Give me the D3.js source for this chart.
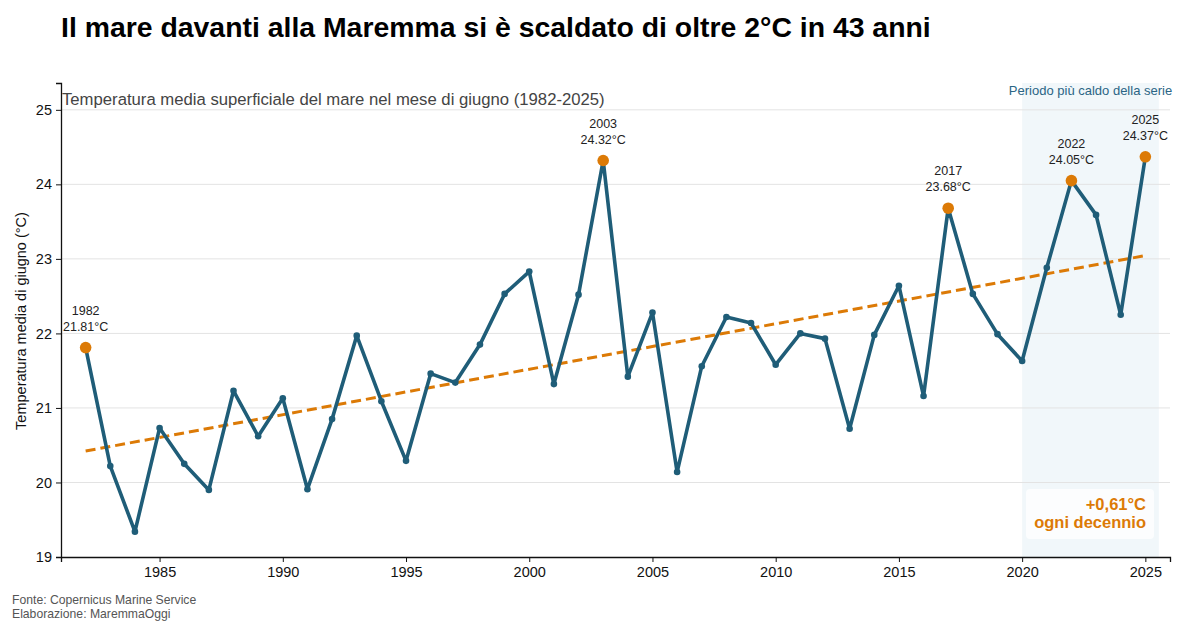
<!DOCTYPE html>
<html>
<head>
<meta charset="utf-8">
<script src="https://cdn.jsdelivr.net/npm/d3@7"></script>
<style>
  body { margin: 0; background: #fff; }
  svg { font-family: "Liberation Sans", Arial, sans-serif; }
</style>
</head>
<body>
<svg width="1200" height="630"></svg>
<script>
// dati
var years = [1982,1983,1984,1985,1986,1987,1988,1989,1990,1991,1992,1993,1994,1995,1996,1997,1998,1999,2000,2001,2002,2003,2004,2005,2006,2007,2008,2009,2010,2011,2012,2013,2014,2015,2016,2017,2018,2019,2020,2021,2022,2023,2024,2025];
var temps = [21.81,20.22,19.34,20.73,20.25,19.90,21.23,20.62,21.13,19.91,20.85,21.97,21.09,20.29,21.46,21.34,21.85,22.53,22.83,21.32,22.52,24.32,21.42,22.28,20.14,21.56,22.22,22.14,21.58,22.00,21.93,20.72,21.98,22.64,21.16,23.68,22.53,21.99,21.63,22.88,24.05,23.59,22.25,24.37];
var highlightYears = [1982, 2003, 2017, 2022, 2025];
var yTicks = [19,20,21,22,23,24,25];
var xTicks = [1985,1990,1995,2000,2005,2010,2015,2020,2025];

var blue = "#1f5d78", orange = "#dc7a06";

var svg = d3.select("svg");
var mLeft = 61, mRight = 1170, mTop = 83, mBottom = 557;

var x = d3.scaleLinear().domain([1981, 2026]).range([mLeft, mRight]);
var y = d3.scaleLinear().domain([19, 25.36]).range([mBottom, mTop]);

var data = years.map(function(d, i){ return {year: d, t: temps[i]} });

// periodo piu caldo
svg.append("rect")
   .attr("x", x(2020)).attr("y", mTop)
   .attr("width", x(2025.55) - x(2020)).attr("height", mBottom - mTop)
   .style("fill", "#e8f2f6").style("opacity", 0.6);

// griglia
svg.selectAll("line.grid")
   .data(yTicks.slice(1))
   .enter().append("line")
   .attr("class", "grid")
   .attr("x1", mLeft).attr("x2", mRight)
   .attr("y1", function(d){ return y(d) }).attr("y2", function(d){ return y(d) })
   .style("stroke", "#e3e3e3").style("stroke-width", 1);

// assi
var yAxis = svg.append("g")
   .attr("transform", "translate(" + mLeft + ",0)")
   .call(d3.axisLeft(y).tickValues(yTicks).tickSize(5).tickPadding(4).tickFormat(d3.format("d")));
var xAxis = svg.append("g")
   .attr("transform", "translate(0," + mBottom + ")")
   .call(d3.axisBottom(x).tickValues(xTicks).tickSize(5).tickPadding(5).tickFormat(d3.format("d")));
[yAxis, xAxis].forEach(function(g){
	g.selectAll("text").style("font-size", "14.5px").style("fill", "#111").style("font-family", "Liberation Sans, Arial, sans-serif");
	g.select(".domain").style("stroke", "#111").style("stroke-width", 1.3);
	g.selectAll(".tick line").style("stroke", "#111");
});

// linea di tendenza (regressione lineare)
var mx = d3.mean(years), my = d3.mean(temps);
var slope = d3.sum(data, function(d){ return (d.year - mx) * (d.t - my) }) /
            d3.sum(data, function(d){ return (d.year - mx) * (d.year - mx) });
var icpt = my - slope * mx;
var x0 = years[0], x1 = years[years.length - 1];
svg.append("line")
   .attr("x1", x(x0)).attr("y1", y(icpt + slope * x0))
   .attr("x2", x(x1)).attr("y2", y(icpt + slope * x1))
   .style("stroke", orange).style("stroke-width", 3)
   .style("stroke-dasharray", "10,5");

// serie
var line = d3.line().x(function(d){ return x(d.year) }).y(function(d){ return y(d.t) });
svg.append("path")
   .datum(data)
   .attr("d", line)
   .style("fill", "none").style("stroke", blue)
   .style("stroke-width", 3.6).style("stroke-linejoin", "round");

svg.selectAll("circle.pt")
   .data(data)
   .enter().append("circle")
   .attr("class", "pt")
   .attr("cx", function(d){ return x(d.year) })
   .attr("cy", function(d){ return y(d.t) })
   .attr("r", 3.3)
   .style("fill", blue);

var hl = data.filter(function(d){ return highlightYears.indexOf(d.year) >= 0 });
svg.selectAll("circle.hl")
   .data(hl)
   .enter().append("circle")
   .attr("class", "hl")
   .attr("cx", function(d){ return x(d.year) })
   .attr("cy", function(d){ return y(d.t) })
   .attr("r", 5.8)
   .style("fill", orange);

var lab = svg.selectAll("text.hl")
   .data(hl)
   .enter().append("text")
   .attr("class", "hl")
   .attr("text-anchor", "middle")
   .style("font-size", "12.5px").style("fill", "#222");
lab.append("tspan")
   .attr("x", function(d){ return x(d.year) })
   .attr("y", function(d){ return y(d.t) - 33 })
   .text(function(d){ return d.year });
lab.append("tspan")
   .attr("x", function(d){ return x(d.year) })
   .attr("y", function(d){ return y(d.t) - 17 })
   .text(function(d){ return d.t.toFixed(2) + "°C" });

// testi
svg.append("text")
   .attr("x", 61).attr("y", 37)
   .style("font-size", "28.4px").style("font-weight", "bold").style("fill", "#000")
   .text("Il mare davanti alla Maremma si è scaldato di oltre 2°C in 43 anni");

svg.append("text")
   .attr("x", 62).attr("y", 105)
   .style("font-size", "16.7px").style("fill", "#444")
   .text("Temperatura media superficiale del mare nel mese di giugno (1982-2025)");

svg.append("text")
   .attr("x", (x(2020) + x(2025.55)) / 2 + 0).attr("y", 95)
   .attr("text-anchor", "middle")
   .style("font-size", "13px").style("fill", "#2b6585")
   .text("Periodo più caldo della serie");

svg.append("text")
   .attr("transform", "translate(26," + ((mTop + mBottom) / 2 + 1) + ") rotate(-90)")
   .attr("text-anchor", "middle")
   .style("font-size", "14.5px").style("fill", "#111")
   .text("Temperatura media di giugno (°C)");

// riquadro tasso
svg.append("rect")
   .attr("x", 1026).attr("y", 489).attr("width", 128).attr("height", 50).attr("rx", 4)
   .style("fill", "#fff").style("opacity", 0.75);
var rate = svg.append("text")
   .attr("text-anchor", "end")
   .style("font-size", "16.5px").style("font-weight", "bold").style("fill", orange);
rate.append("tspan").attr("x", 1146).attr("y", 510)
    .text("+" + (slope * 10).toFixed(2).replace(".", ",") + "°C");
rate.append("tspan").attr("x", 1146).attr("y", 528).text("ogni decennio");

var foot = svg.append("text").style("font-size", "12.2px").style("fill", "#555");
foot.append("tspan").attr("x", 12).attr("y", 604).text("Fonte: Copernicus Marine Service");
foot.append("tspan").attr("x", 12).attr("y", 618).text("Elaborazione: MaremmaOggi");
</script>
</body>
</html>
